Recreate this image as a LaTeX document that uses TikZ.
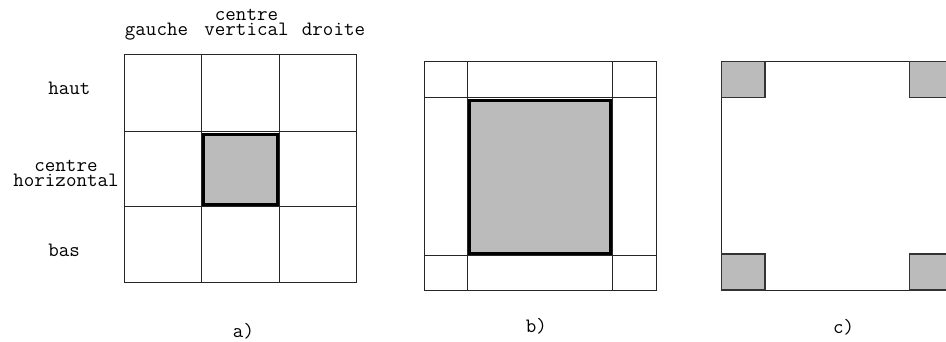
\documentclass[tikz,border=0pt]{standalone}
\usepackage{tikz}
\usetikzlibrary{positioning}
\definecolor{cellgray}{HTML}{BBBBBB}
\newcommand{\etiqfont}{\ttfamily\fontsize{20.4}{15.5}\selectfont}

\begin{document}
\begin{tikzpicture}[
  x=1pt,y=-1pt,
  grille/.style={draw=black!85,line width=0.9pt},
  choisi/.style={draw=black,fill=cellgray,line width=3pt},
  coin/.style={draw=black!80,fill=cellgray,line width=1.3pt},
  etiq/.style={font=\etiqfont,inner sep=0pt,anchor=base,align=center}
]
\clip (0,0) rectangle (946,341);
% a)
\draw[grille] (124.7,54.3) rectangle (356.3,282.7);
\draw[grille] (201.3,54.3) -- (201.3,282.7) (279.3,54.3) -- (279.3,282.7);
\draw[grille] (124.7,131.7) -- (356.3,131.7) (124.7,206) -- (356.3,206);
\draw[choisi] (203,134) rectangle (277.6,204.5);
\node[etiq] (g)  at (156.5,35.5) {gauche};
\node[etiq] (cv) at (246.5,35.8) {centre\\vertical};
\node[etiq] (d)  at (333.5,35.5) {droite};
\node[etiq] (h)  at (69.3,94.3)  {haut};
\node[etiq] (ch) at (66,186.7)   {centre\\horizontal};
\node[etiq] (b)  at (64.2,256.7) {bas};
\node[etiq] (la) at (243.5,337.5) {a)};
% b)
\draw[grille] (424.7,61.7) rectangle (656.7,290);
\draw[grille] (467.7,61.7) -- (467.7,290) (612.3,61.7) -- (612.3,290);
\draw[grille] (424.7,97) -- (656.7,97) (424.7,255) -- (656.7,255);
\draw[choisi] (469.5,100) rectangle (610.7,253.5);
\node[etiq] (lb) at (536.3,332.7) {b)};
% c)
\draw[grille] (721.7,61.7) rectangle (953,290);
\foreach \cx in {721.7,909.5}
  \foreach \cy in {61.7,254}
    \draw[coin] (\cx,\cy) rectangle ++(43.4,36);
\node[etiq] (lc) at (843.5,333) {c)};
\end{tikzpicture}
\end{document}
